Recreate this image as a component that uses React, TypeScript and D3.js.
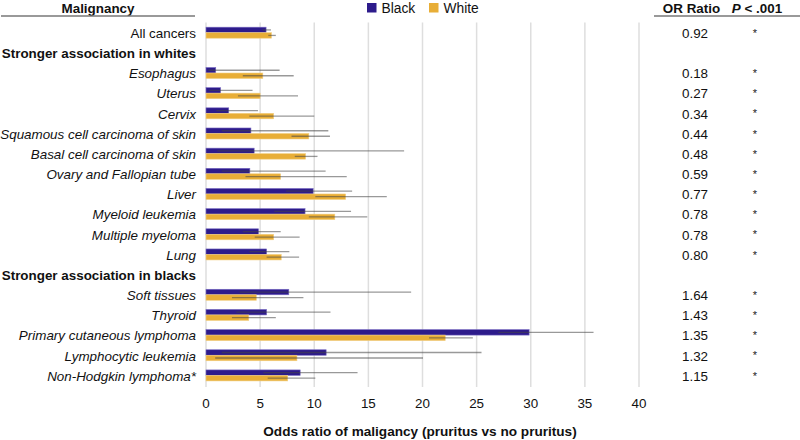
import React, { useEffect, useRef } from "react";
import * as d3 from "d3";

// rows top to bottom (section headers included)
const labels = [
  "All cancers",
  "Stronger association in whites",
  "Esophagus",
  "Uterus",
  "Cervix",
  "Squamous cell carcinoma of skin",
  "Basal cell carcinoma of skin",
  "Ovary and Fallopian tube",
  "Liver",
  "Myeloid leukemia",
  "Multiple myeloma",
  "Lung",
  "Stronger association in blacks",
  "Soft tissues",
  "Thyroid",
  "Primary cutaneous lymphoma",
  "Lymphocytic leukemia",
  "Non-Hodgkin lymphoma*",
];
const sectionHeaders = ["Stronger association in whites", "Stronger association in blacks"];

const blackOR = [5.55, null, 0.9, 1.35, 2.1, 4.15, 4.45, 4.05, 9.9, 9.15, 4.85, 5.6, null, 7.65, 5.6, 29.85, 11.1, 8.7];
const blackLow = [5.2, null, 0.2, 0.3, 0.95, 1.45, 1.05, 1.45, 7.4, 6.3, 3.4, 4.0, null, 3.1, 2.8, 27.0, 1.45, 5.3];
const blackHigh = [6.0, null, 6.8, 4.3, 4.8, 11.3, 18.3, 11.05, 13.5, 13.4, 6.9, 7.7, null, 18.95, 11.5, 35.8, 25.45, 14.0];
const whiteOR = [6.05, null, 5.25, 5.0, 6.25, 9.5, 9.2, 6.9, 12.9, 11.9, 6.25, 6.95, null, 4.65, 3.95, 22.1, 8.4, 7.55];
const whiteLow = [5.75, null, 3.4, 2.95, 4.0, 7.9, 8.2, 3.65, 10.1, 9.5, 4.5, 5.6, null, 2.4, 2.4, 20.6, 0.85, 5.7];
const whiteHigh = [6.45, null, 8.1, 8.5, 10.0, 11.45, 10.3, 13.0, 16.7, 14.9, 8.65, 8.6, null, 9.0, 6.45, 24.65, 20.05, 10.1];
const orRatio = ["0.92", "", "0.18", "0.27", "0.34", "0.44", "0.48", "0.59", "0.77", "0.78", "0.78", "0.80", "", "1.64", "1.43", "1.35", "1.32", "1.15"];
const pMark = ["*", "", "*", "*", "*", "*", "*", "*", "*", "*", "*", "*", "", "*", "*", "*", "*", "*"];
const xTicks = [0, 5, 10, 15, 20, 25, 30, 35, 40];
const seriesNames = ["Black", "White"];

const FONT = "'Liberation Sans', Arial, Helvetica, sans-serif";
const BLACK = "#2d1b8b";
const WHITE = "#e8ae37";
const FS = 13.4;

const App = () => {
  const ref = useRef<HTMLDivElement>(null);

  useEffect(() => {
    const width = 800;
    const height = 440;

    const svg = d3
      .select(ref.current)
      .html("")
      .append("svg")
      .attr("width", width)
      .attr("height", height)
      .style("position", "absolute")
      .style("left", "0px")
      .style("top", "0px")
      .style("font-family", FONT);

    const x = d3.scaleLinear().domain([0, 40]).range([206, 639]);
    const y = d3.scaleBand().domain(labels).range([23.2, 386.1]).padding(0);
    const yc = (l: string) => (y(l) as number) + y.bandwidth() / 2;
    const barH = 5.5;

    // gridlines
    svg.append("g")
      .selectAll("line")
      .data(xTicks)
      .join("line")
      .attr("x1", (d) => x(d))
      .attr("x2", (d) => x(d))
      .attr("y1", 22.5)
      .attr("y2", 387)
      .attr("stroke", "#dedede")
      .attr("stroke-width", 1.5);

    // tick labels
    svg.append("g")
      .selectAll("text")
      .data(xTicks)
      .join("text")
      .attr("x", (d) => x(d))
      .attr("y", 407.5)
      .attr("text-anchor", "middle")
      .attr("font-size", FS)
      .attr("fill", "#111")
      .text((d) => d);

    svg.append("text")
      .attr("x", 420)
      .attr("y", 436)
      .attr("text-anchor", "middle")
      .attr("font-size", 13.6)
      .attr("font-weight", "bold")
      .attr("fill", "#111")
      .text("Odds ratio of maligancy (pruritus vs no pruritus)");

    // bars
    const bars = svg.append("g");
    labels.forEach((l, i) => {
      if (blackOR[i] == null) return;
      const c = yc(l) - 0.6;
      bars.append("rect")
        .attr("x", x(0))
        .attr("y", c - barH)
        .attr("width", x(blackOR[i] as number) - x(0))
        .attr("height", barH)
        .attr("fill", BLACK)
        .attr("stroke", "#7a6cc4")
        .attr("stroke-width", 0.6);
      bars.append("rect")
        .attr("x", x(0))
        .attr("y", c)
        .attr("width", x(whiteOR[i] as number) - x(0))
        .attr("height", barH)
        .attr("fill", WHITE)
        .attr("stroke", "#f2cf84")
        .attr("stroke-width", 0.6);
      // confidence intervals
      bars.append("line")
        .attr("x1", x(blackLow[i] as number))
        .attr("x2", x(blackHigh[i] as number))
        .attr("y1", c - barH / 2)
        .attr("y2", c - barH / 2)
        .attr("stroke", "rgba(70,70,70,0.55)")
        .attr("stroke-width", 1.3);
      bars.append("line")
        .attr("x1", x(whiteLow[i] as number))
        .attr("x2", x(whiteHigh[i] as number))
        .attr("y1", c + barH / 2)
        .attr("y2", c + barH / 2)
        .attr("stroke", "rgba(70,70,70,0.55)")
        .attr("stroke-width", 1.3);
    });

    // row labels
    svg.append("g")
      .selectAll("text")
      .data(labels)
      .join("text")
      .attr("x", 196)
      .attr("y", (d) => yc(d) + 4.7)
      .attr("text-anchor", "end")
      .attr("font-size", FS)
      .attr("fill", "#111")
      .attr("font-weight", (d) => (sectionHeaders.includes(d) ? "bold" : "normal"))
      .attr("font-style", (d, i) => (sectionHeaders.includes(d) || i === 0 ? "normal" : "italic"))
      .text((d) => d);

    // table columns
    svg.append("g")
      .selectAll("text")
      .data(labels)
      .join("text")
      .attr("x", 695)
      .attr("y", (d) => yc(d) + 4.7)
      .attr("text-anchor", "middle")
      .attr("font-size", FS)
      .attr("fill", "#111")
      .text((d, i) => orRatio[i]);

    svg.append("g")
      .selectAll("text")
      .data(labels)
      .join("text")
      .attr("x", 755)
      .attr("y", (d) => yc(d) + 3.5)
      .attr("text-anchor", "middle")
      .attr("font-size", 11)
      .attr("fill", "#222")
      .text((d, i) => pMark[i]);

    // headers
    svg.append("text")
      .attr("x", 98)
      .attr("y", 12.5)
      .attr("text-anchor", "middle")
      .attr("font-size", FS)
      .attr("font-weight", "bold")
      .attr("fill", "#111")
      .text("Malignancy");
    svg.append("line")
      .attr("x1", 1).attr("x2", 195)
      .attr("y1", 16).attr("y2", 16)
      .attr("stroke", "#777").attr("stroke-width", 1.5);

    svg.append("text")
      .attr("x", 691.5)
      .attr("y", 12.5)
      .attr("text-anchor", "middle")
      .attr("font-size", FS)
      .attr("font-weight", "bold")
      .attr("fill", "#111")
      .text("OR Ratio");
    const p = svg.append("text")
      .attr("x", 757)
      .attr("y", 12.5)
      .attr("text-anchor", "middle")
      .attr("font-size", FS)
      .attr("font-weight", "bold")
      .attr("fill", "#111");
    p.append("tspan").attr("font-style", "italic").text("P");
    p.append("tspan").text(" < .001");
    svg.append("line")
      .attr("x1", 654).attr("x2", 800)
      .attr("y1", 16).attr("y2", 16)
      .attr("stroke", "#777").attr("stroke-width", 1.5);

    // legend
    const legendX = [367, 429];
    const legend = svg.append("g");
    seriesNames.forEach((name, i) => {
      legend.append("rect")
        .attr("x", legendX[i])
        .attr("y", 3)
        .attr("width", 9.5)
        .attr("height", 9.5)
        .attr("fill", i === 0 ? BLACK : WHITE);
      legend.append("text")
        .attr("x", legendX[i] + 14.5)
        .attr("y", 12.5)
        .attr("font-size", 13.8)
        .attr("fill", "#111")
        .text(name);
    });
  }, []);

  return <div ref={ref} />;
};

export default App;
